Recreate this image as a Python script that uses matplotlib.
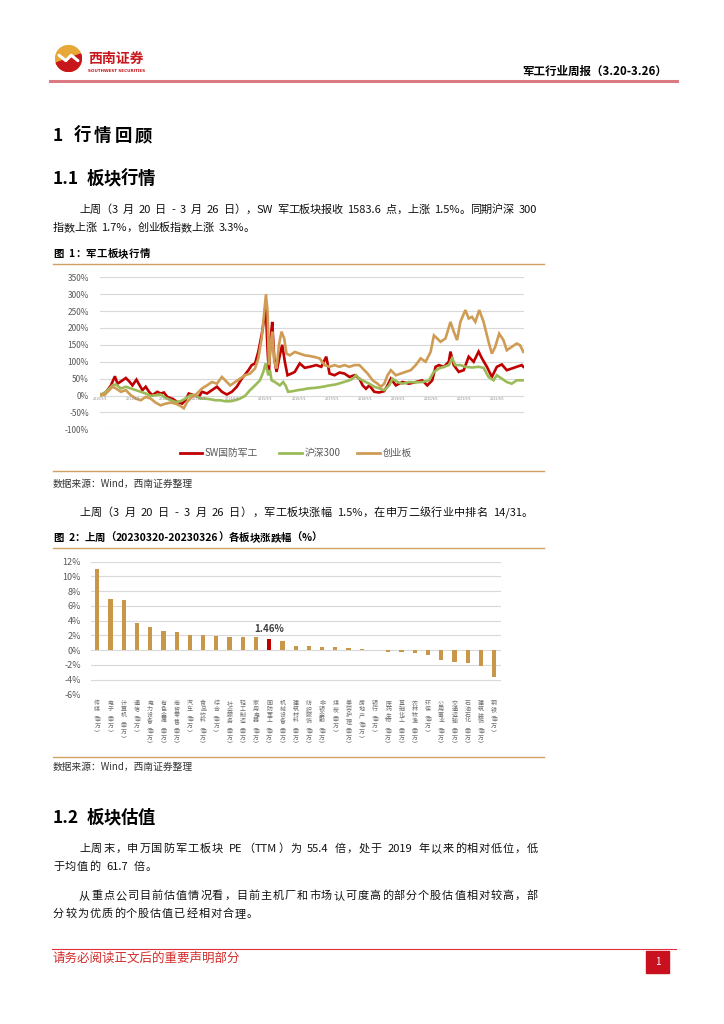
import re
import matplotlib
matplotlib.use('Agg')
import matplotlib.pyplot as plt
from matplotlib.patches import Rectangle, Circle, Wedge
from matplotlib.lines import Line2D
import matplotlib.transforms as mtrans

plt.rcParams['font.family'] = ['Noto Sans CJK SC', 'DejaVu Sans']

# ---------------- data: chart 1 (cumulative change, %) ----------------
sw_years = [2010.42, 2010.60, 2010.75, 2010.87, 2010.95, 2011.10, 2011.20, 2011.30, 2011.40, 2011.52,
            2011.60, 2011.70, 2011.80, 2011.90, 2012.00, 2012.15, 2012.25, 2012.35, 2012.45, 2012.60,
            2012.75, 2012.90, 2013.00, 2013.10, 2013.25, 2013.40, 2013.50, 2013.65, 2013.80, 2013.95,
            2014.10, 2014.25, 2014.40, 2014.55, 2014.70, 2014.80, 2014.90, 2015.00, 2015.10, 2015.20,
            2015.30, 2015.38, 2015.42, 2015.48, 2015.52, 2015.58, 2015.62, 2015.68, 2015.75, 2015.85,
            2015.92, 2016.00, 2016.08, 2016.20, 2016.30, 2016.45, 2016.60, 2016.75, 2016.95, 2017.10,
            2017.25, 2017.35, 2017.50, 2017.65, 2017.80, 2017.95, 2018.10, 2018.25, 2018.35, 2018.45,
            2018.55, 2018.70, 2018.85, 2019.00, 2019.10, 2019.20, 2019.35, 2019.55, 2019.75, 2019.95,
            2020.15, 2020.30, 2020.45, 2020.55, 2020.65, 2020.80, 2020.95, 2021.00, 2021.10, 2021.25,
            2021.40, 2021.55, 2021.70, 2021.85, 2021.95, 2022.10, 2022.25, 2022.40, 2022.55, 2022.70,
            2022.85, 2023.00, 2023.15, 2023.20]
sw_values = [0, 10, 30, 57, 35, 45, 52, 42, 30, 47,
             33, 16, 26, 11, 1, 11, 6, 9, -4, -9,
             -19, -24, -14, 6, 1, -4, 11, 6, 16, 26,
             11, 3, 11, 26, 50, 62, 75, 90, 95, 130,
             180, 228, 272, 130, 70, 180, 218, 110, 70, 120,
             150, 100, 60, 65, 70, 95, 82, 85, 90, 85,
             115, 65, 60, 68, 65, 55, 60, 50, 30, 20,
             30, 11, 9, 13, 30, 50, 30, 40, 35, 40,
             45, 30, 45, 85, 90, 85, 100, 130, 90, 70,
             75, 115, 100, 130, 110, 85, 55, 85, 92, 75,
             80, 85, 90, 85]

hs300_years = [2010.42, 2010.60, 2010.80, 2010.90, 2011.05, 2011.20, 2011.35, 2011.50, 2011.65, 2011.80,
               2011.95, 2012.10, 2012.25, 2012.40, 2012.55, 2012.70, 2012.85, 2013.00, 2013.15, 2013.30,
               2013.45, 2013.60, 2013.75, 2013.90, 2014.05, 2014.20, 2014.35, 2014.50, 2014.65, 2014.80,
               2014.95, 2015.10, 2015.25, 2015.35, 2015.42, 2015.50, 2015.55, 2015.60, 2015.70, 2015.85,
               2015.95, 2016.02, 2016.10, 2016.25, 2016.40, 2016.55, 2016.70, 2016.95, 2017.15, 2017.35,
               2017.55, 2017.75, 2017.95, 2018.05, 2018.15, 2018.25, 2018.40, 2018.55, 2018.70, 2018.85,
               2019.00, 2019.15, 2019.25, 2019.40, 2019.55, 2019.75, 2019.95, 2020.15, 2020.35, 2020.50,
               2020.65, 2020.80, 2020.95, 2021.05, 2021.15, 2021.30, 2021.45, 2021.65, 2021.85, 2022.00,
               2022.15, 2022.30, 2022.40, 2022.55, 2022.70, 2022.85, 2023.00, 2023.20]
hs300_values = [0, 11, 30, 33, 21, 26, 21, 16, 11, 6,
                -1, 1, 3, -7, -14, -19, -17, -9, 1, 1,
                -9, -9, -11, -14, -14, -17, -17, -14, -9, -1,
                16, 30, 45, 70, 95, 60, 75, 45, 40, 30,
                40, 30, 11, 13, 16, 18, 21, 23, 26, 30,
                33, 39, 45, 50, 60, 50, 42, 35, 26, 21,
                16, 30, 50, 40, 35, 40, 39, 40, 45, 70,
                80, 85, 90, 110, 90, 90, 85, 83, 85, 82,
                55, 45, 60, 50, 40, 35, 45, 45]

cyb_years = [2010.42, 2010.55, 2010.70, 2010.80, 2010.90, 2011.05, 2011.20, 2011.35, 2011.50, 2011.65,
             2011.80, 2011.95, 2012.10, 2012.25, 2012.40, 2012.55, 2012.70, 2012.85, 2012.95, 2013.05,
             2013.20, 2013.35, 2013.50, 2013.65, 2013.80, 2013.95, 2014.10, 2014.20, 2014.35, 2014.50,
             2014.65, 2014.80, 2014.95, 2015.10, 2015.20, 2015.30, 2015.38, 2015.43, 2015.48, 2015.52,
             2015.57, 2015.62, 2015.68, 2015.75, 2015.82, 2015.90, 2015.98, 2016.05, 2016.15, 2016.30,
             2016.45, 2016.60, 2016.75, 2016.90, 2017.05, 2017.20, 2017.35, 2017.50, 2017.65, 2017.80,
             2017.95, 2018.10, 2018.25, 2018.35, 2018.50, 2018.65, 2018.80, 2018.90, 2019.00, 2019.10,
             2019.20, 2019.35, 2019.50, 2019.65, 2019.80, 2019.95, 2020.10, 2020.25, 2020.40, 2020.50,
             2020.60, 2020.70, 2020.85, 2021.00, 2021.10, 2021.20, 2021.30, 2021.45, 2021.55, 2021.65,
             2021.75, 2021.87, 2022.00, 2022.15, 2022.25, 2022.35, 2022.47, 2022.60, 2022.70, 2022.85,
             2023.00, 2023.10, 2023.20]
cyb_values = [5, 1, 16, 26, 21, 11, 16, 1, -9, -14,
              -4, -9, -21, -29, -24, -21, -24, -31, -38, -19,
              -4, 6, 21, 30, 40, 35, 55, 45, 30, 40,
              50, 60, 65, 80, 110, 169, 248, 300, 248, 90,
              149, 189, 100, 80, 149, 189, 169, 124, 119, 129,
              124, 119, 117, 114, 110, 90, 85, 90, 85, 90,
              85, 90, 90, 80, 65, 45, 35, 26, 35, 60,
              75, 60, 65, 70, 75, 90, 110, 100, 129, 178,
              169, 159, 169, 218, 189, 164, 218, 253, 228, 233,
              218, 253, 218, 159, 124, 144, 183, 164, 134, 144,
              154, 149, 129]

series_names = ['SW国防军工', '沪深300', '创业板']
series_colors = ['#C00000', '#9BBB59', '#CF9C55']

c1_tick_years = [2010.42 + k for k in range(13)]
c1_tick_labels = ['2010/6/1', '2011/6/1', '2012/6/1', '2013/6/1', '2014/6/1', '2015/6/1', '2016/6/1',
                  '2017/6/1', '2018/6/1', '2019/6/1', '2020/6/1', '2021/6/1', '2022/6/1']
c1_yticks = [-100, -50, 0, 50, 100, 150, 200, 250, 300, 350]

# ---------------- data: chart 2 (weekly change, %) ----------------
sectors = ['传媒(申万)', '电子(申万)', '计算机(申万)', '通信(申万)', '电力设备(申万)', '有色金属(申万)',
           '商贸零售(申万)', '汽车(申万)', '食品饮料(申万)', '综合(申万)', '社会服务(申万)', '轻工制造(申万)',
           '家用电器(申万)', '国防军工(申万)', '机械设备(申万)', '建筑材料(申万)', '纺织服饰(申万)',
           '非银金融(申万)', '煤炭(申万)', '美容护理(申万)', '房地产(申万)', '银行(申万)', '医药生物(申万)',
           '基础化工(申万)', '农林牧渔(申万)', '环保(申万)', '公用事业(申万)', '交通运输(申万)',
           '石油石化(申万)', '建筑装饰(申万)', '钢铁(申万)']
sector_change = [10.95, 6.98, 6.75, 3.65, 3.10, 2.65, 2.50, 2.10, 2.00, 1.87, 1.80, 1.78,
                 1.78, 1.46, 1.19, 0.60, 0.60, 0.37, 0.37, 0.28, 0.18, -0.05, -0.22,
                 -0.20, -0.35, -0.60, -1.30, -1.60, -1.80, -2.20, -3.65]
highlight = '国防军工(申万)'
c2_yticks = [-6, -4, -2, 0, 2, 4, 6, 8, 10, 12]

# ---------------- page ----------------
W, H = 724, 1024
fig = plt.figure(figsize=(7.24, 10.24), dpi=100)
fig.patch.set_facecolor('white')
renderer = fig.canvas.get_renderer()


def fx(x):
    return x / W


def fy(y):
    return 1 - y / H


TOK = re.compile(r'[A-Za-z0-9.%/\-]+| +|[^ A-Za-z0-9.%/\-]')


def measure(tok, size, weight):
    t = fig.text(0, 0, tok, fontsize=size, fontweight=weight)
    w = t.get_window_extent(renderer).width
    t.remove()
    return w


def draw_line(x0, yc, s, size, color='#111111', weight='normal', x1=None, gap=0.0, space=0.45):
    # tokens: spaces get a fixed width; other tokens are spread evenly (justified)
    toks = TOK.findall(s)
    em = size * 100 / 72
    widths = []
    for tk in toks:
        if tk.strip() == '':
            widths.append(space * em * len(tk))
        else:
            widths.append(measure(tk, size, weight))
    solid = [tk for tk in toks if tk.strip()]
    n = len(solid)
    if x1 is not None and n > 1:
        gap = (x1 - x0 - sum(widths)) / (n - 1)
    x = x0
    base = yc + 0.36 * em
    for j, (tk, w) in enumerate(zip(toks, widths)):
        if tk.strip():
            fig.text(fx(x), fy(base), tk, fontsize=size, color=color, fontweight=weight,
                     ha='left', va='baseline')
            x += w
            nxt = toks[j + 1] if j + 1 < len(toks) else ''
            if nxt.strip() or nxt == '':
                x += gap
            else:
                x += gap * 0.5
        else:
            x += w + gap * 0.5
    return gap


def hline(x0, x1, y, color, lw):
    fig.add_artist(Line2D([fx(x0), fx(x1)], [fy(y), fy(y)], color=color, lw=lw,
                          transform=fig.transFigure))


# ---- header ----
axl = fig.add_axes([fx(55), fy(72), 27 / W, 27 / H])
axl.set_xlim(0, 1)
axl.set_ylim(0, 1)
axl.set_aspect('equal')
axl.axis('off')
axl.add_patch(Circle((0.5, 0.5), 0.48, color='#E8A838'))
axl.add_patch(Wedge((0.5, 0.5), 0.48, 200, 20, color='#C8161D'))
axl.plot([0.15, 0.4, 0.6, 0.85], [0.62, 0.42, 0.62, 0.42], color='white', lw=2.2, solid_capstyle='round')

fig.text(fx(88), fy(59), '西南证券', fontsize=10, fontweight='bold', color='#C8161D', ha='left', va='center')
fig.text(fx(88), fy(71), 'SOUTHWEST SECURITIES', fontsize=3, fontweight='bold', color='#C8161D',
         ha='left', va='center', family=['DejaVu Sans'])
fig.text(fx(667), fy(71), '军工行业周报（3.20-3.26）', fontsize=8.3, fontweight='bold', color='#000000',
         ha='right', va='center')
hline(50, 677, 80.5, '#DB7A82', 2.2)

# ---- section 1 ----
draw_line(53, 135, '1 行情回顾', 12.5, weight='bold', x1=152, color='#000000')
draw_line(53, 178, '1.1 板块行情', 12.5, weight='bold', x1=155, color='#000000')
BODY = 8
g = draw_line(79, 209, '上周（3 月 20 日 - 3 月 26 日），SW 军工板块报收 1583.6 点，上涨 1.5%。同期沪深 300',
              BODY, x1=537)
draw_line(53, 227, '指数上涨 1.7%，创业板指数上涨 3.3%。', BODY, gap=g)
draw_line(53, 253, '图 1：军工板块行情', 7.5, weight='bold', x1=150, color='#000000')
GOLD = '#CFA162'
hline(53, 544, 263.5, GOLD, 1.0)
hline(53, 544, 471, GOLD, 1.0)

# ---- chart 1 ----
ax1 = fig.add_axes([fx(100), fy(429.3), (524 - 100) / W, (429.3 - 277.3) / H])
for yrs, vals, nm, col in zip([sw_years, hs300_years, cyb_years], [sw_values, hs300_values, cyb_values],
                              series_names, series_colors):
    ax1.plot(yrs, vals, color=col, lw=1.9, label=nm, solid_joinstyle='miter')
ax1.set_xlim(2010.42, 2023.22)
ax1.set_ylim(-100, 350)
ax1.set_yticks(c1_yticks)
ax1.set_yticklabels([f'{v}%' for v in c1_yticks])
ax1.set_xticks([])
ax1.yaxis.grid(True, color='#D9D9D9', lw=0.8)
ax1.set_axisbelow(True)
for s in ax1.spines.values():
    s.set_visible(False)
ax1.tick_params(axis='y', length=0, labelsize=6, colors='#595959', pad=8)
for ty, tl in zip(c1_tick_years, c1_tick_labels):
    ax1.text(ty, -5, tl, fontsize=2.3, color='#8C8C8C', ha='center', va='top', family=['DejaVu Sans'])

# legend
leg_items = [(180, 202, 205), (279, 302, 305), (357, 380, 383)]
for (a, b, tx), nm, col in zip(leg_items, series_names, series_colors):
    hline(a, b, 452.7, col, 2.0)
    fig.text(fx(tx), fy(452.7), nm, fontsize=7, color='#595959', ha='left', va='center')

fig.text(fx(53), fy(484), '数据来源：Wind，西南证券整理', fontsize=7, color='#333333', style='italic',
         ha='left', va='center')

# ---- paragraph + chart 2 ----
draw_line(79, 512, '上周（3 月 20 日 - 3 月 26 日），军工板块涨幅 1.5%，在申万二级行业中排名 14/31。', BODY, x1=533)
draw_line(53, 537, '图 2：上周（20230320-20230326）各板块涨跌幅（%）', 7.5, weight='bold', x1=322,
          color='#000000')
hline(53, 544, 548, GOLD, 1.0)

ax2 = fig.add_axes([fx(90.7), fy(694.3), 410 / W, 132.6 / H])
xs = list(range(len(sectors)))
cols = ['#C00000' if s == highlight else '#C99749' for s in sectors]
ax2.bar(xs, sector_change, width=0.32, color=cols, zorder=3)
ax2.set_xlim(-0.5, len(sectors) - 0.5)
ax2.set_ylim(-6, 12)
ax2.set_yticks(c2_yticks)
ax2.set_yticklabels([f'{v}%' for v in c2_yticks])
ax2.set_xticks([])
ax2.yaxis.grid(True, color='#D9D9D9', lw=0.8)
ax2.set_axisbelow(True)
for s in ax2.spines.values():
    s.set_visible(False)
ax2.tick_params(axis='y', length=0, labelsize=6.5, colors='#595959', pad=7)
hi = sectors.index(highlight)
ax2.text(hi, 2.9, f'{sector_change[hi]:.2f}%', ha='center', va='center', fontsize=7, fontweight='bold',
         color='#404040')

# vertical category labels (upright stacked characters)
vmap = {'(': '︵', ')': '︶'}
trans2 = mtrans.blended_transform_factory(ax2.transData, fig.transFigure)
for i, lab in enumerate(sectors):
    for k, ch in enumerate(lab):
        ax2.text(i, fy(703.5 + k * 5.8), vmap.get(ch, ch), transform=trans2, fontsize=4.3,
                 color='#6E6E6E', ha='center', va='center', clip_on=False)

hline(53, 544, 756.5, GOLD, 1.0)
fig.text(fx(53), fy(767), '数据来源：Wind，西南证券整理', fontsize=7, color='#333333', style='italic',
         ha='left', va='center')

# ---- section 1.2 ----
draw_line(53, 817, '1.2 板块估值', 12.5, weight='bold', x1=155, color='#000000')
g2 = draw_line(79, 848, '上周末，申万国防军工板块 PE（TTM）为 55.4 倍，处于 2019 年以来的相对低位，低', BODY, x1=538)
draw_line(53, 866, '于均值的 61.7 倍。', BODY, gap=g2)
g3 = draw_line(79, 895, '从重点公司目前估值情况看，目前主机厂和市场认可度高的部分个股估值相对较高，部', BODY, x1=538)
draw_line(53, 913, '分较为优质的个股估值已经相对合理。', BODY, gap=g3)

# ---- footer ----
hline(52, 676, 948.5, '#E0303C', 0.8)
fig.text(fx(53), fy(958), '请务必阅读正文后的重要声明部分', fontsize=9, color='#D42A2A', ha='left', va='center')
fig.add_artist(Rectangle((fx(646), fy(973)), 23 / W, 22 / H, transform=fig.transFigure,
                         facecolor='#C8101E', edgecolor='#C8101E'))
fig.text(fx(657.5), fy(962), '1', fontsize=7, color='white', ha='center', va='center')

fig.savefig('out.png', dpi=100, facecolor='white')
